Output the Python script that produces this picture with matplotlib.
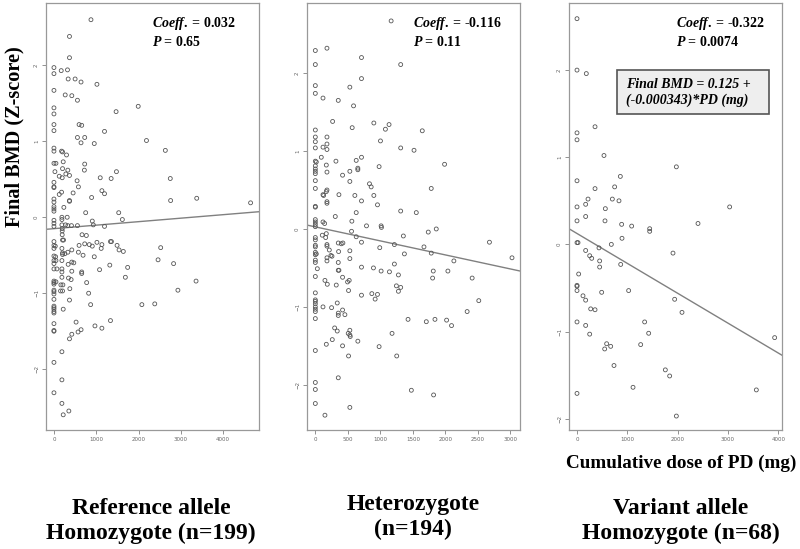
import numpy as np
import matplotlib
matplotlib.use("Agg")
import matplotlib.pyplot as plt
from matplotlib.patches import Rectangle

plt.rcParams['mathtext.fontset'] = 'custom'
plt.rcParams['mathtext.rm'] = 'Liberation Serif:bold'
plt.rcParams['mathtext.it'] = 'Liberation Serif:bold:italic'

# Reference allele homozygote (n=199): cumulative PD dose (mg) vs final BMD Z-score
ref_x = [875, 367, 367, 0, 0, 172, 320, 336, 500, 640, 1016, 0, 266, 422, 555, 1992, 0, 0, 1469, 0,
         594, 656, 0, 1195, 555, 727, 2187, 640, 953, 0, 0, 180, 203, 297, 2633, 0, 47, 219, 727, 203,
         328, 23, 719, 1477, 125, 195, 367, 281, 1094, 1352, 2750, 547, 0, 0, 0, 578, 180, 1133, 1195, 125,
         0, 0, 453, 367, 367, 890, 234, 0, 0, 2758, 3375, 4648,
         0, 750, 1531, 313, 188, 188, 0, 0, 1617, 906, 188, 273, 328, 414, 555, 0, 930, 1195, 195, 195,
         195, 664, 766, 0, 227, 203, 0, 31, 0, 594, 727, 836, 906, 1016, 1133, 1117, 1336, 1359, 1492, 1539,
         1640, 2523, 188, 422, 328, 203, 203, 258, 578, 688, 0, 39, 0, 47, 188, 953, 2461, 422, 469, 336,
         0, 1320, 2828, 0, 70, 188, 188, 422, 656, 656, 1078, 1742, 188, 344, 406, 1688, 3359, 0, 0, 47,
         0, 773, 164, 211, 0, 0, 0, 156, 203, 375, 820, 2930, 0, 367, 0, 0, 0, 0, 0, 219,
         867, 2078, 2383, 0, 523, 1336, 0, 0, 570, 641, 969, 1133, 422, 367, 188, 0, 188, 0, 188, 352, 219]
ref_y = [2.60, 2.38, 2.10, 1.97, 1.89, 1.93, 1.94, 1.82, 1.82, 1.78, 1.75, 1.67, 1.61, 1.60, 1.54, 1.46, 1.44, 1.36, 1.39, 1.22,
         1.22, 1.21, 1.14, 1.13, 1.05, 1.05, 1.01, 0.98, 0.97, 0.91, 0.87, 0.87, 0.86, 0.82, 0.88, 0.71, 0.71, 0.73, 0.70, 0.64,
         0.62, 0.60, 0.62, 0.60, 0.54, 0.52, 0.55, 0.57, 0.52, 0.51, 0.51, 0.48, 0.46, 0.40, 0.39, 0.40, 0.33, 0.35, 0.31, 0.30,
         0.24, 0.20, 0.32, 0.22, 0.21, 0.26, 0.13, 0.14, 0.11, 0.22, 0.25, 0.19,
         0.08, 0.06, 0.06, 0.0, 0.0, -0.03, -0.04, -0.08, -0.03, -0.05, -0.10, -0.10, -0.11, -0.11, -0.11, -0.12, -0.10, -0.12, -0.15, -0.18,
         -0.23, -0.23, -0.24, -0.32, -0.30, -0.30, -0.37, -0.38, -0.41, -0.37, -0.35, -0.36, -0.38, -0.33, -0.36, -0.41, -0.32, -0.32, -0.37, -0.43,
         -0.45, -0.40, -0.41, -0.43, -0.46, -0.47, -0.49, -0.48, -0.46, -0.50, -0.51, -0.52, -0.57, -0.57, -0.57, -0.52, -0.56, -0.59, -0.60, -0.62,
         -0.61, -0.63, -0.61, -0.68, -0.68, -0.68, -0.72, -0.71, -0.72, -0.74, -0.69, -0.66, -0.79, -0.80, -0.82, -0.79, -0.84, -0.84, -0.86, -0.85,
         -0.88, -0.86, -0.89, -0.89, -0.96, -0.98, -1.01, -0.97, -0.97, -0.94, -1.00, -0.96, -1.08, -1.09, -1.17, -1.19, -1.21, -1.24, -1.26, -1.21,
         -1.15, -1.15, -1.14, -1.40, -1.38, -1.36, -1.49, -1.50, -1.51, -1.48, -1.43, -1.46, -1.54, -1.60, -1.77, -1.91, -2.14, -2.31, -2.45, -2.55, -2.60]

# Heterozygote (n=194)
het_x = [1166, 0, 179, 0, 710, 1313, 710, 0, 0, 531, 118, 353, 588, 266, 0, 567, 900, 1134, 1078, 1645,
         0, 0, 0, 179, 179, 179, 118, 1002, 1313, 1518, 92, 0, 15, 169, 317, 629, 710, 1988, 0, 0,
         0, 0, 179, 531, 654, 654, 981, 419, 0, 531, 833, 859, 0, 1783, 179, 169, 118, 128, 363, 608,
         900, 710, 956, 179, 179, 0, 0,
         1313, 1553, 629, 307, 0, 0, 0, 0, 118, 143, 562, 787, 1012, 1017, 1860,
         0, 0, 107, 169, 159, 557, 629, 710, 179, 179, 353, 399, 424, 1354, 1737, 2678, 991, 1216, 1671, 0,
         0, 215, 240, 256, 358, 531, 1370, 1783, 0, 0, 15, 179, 179, 0, 0, 353, 531, 2131, 3025, 31,
         353, 363, 710, 894, 1012, 1140, 1216, 1278, 1814, 2039, 0, 419, 148, 184, 322, 496, 521, 1804, 2412, 1247,
         1313, 1278, 511, 0, 710, 869, 956, 920, 0, 0, 0, 0, 0, 0, 337, 2514, 118, 250, 419, 455,
         353, 353, 2335, 0, 1426, 1707, 1840, 2019, 2095, 297, 337, 531, 531, 506, 537, 1180, 261, 654, 169, 419,
         981, 0, 511, 1252, 353, 0, 0, 1477, 1819, 0, 531, 148]
het_y = [2.67, 2.29, 2.32, 2.11, 2.20, 2.11, 1.93, 1.84, 1.74, 1.82, 1.68, 1.65, 1.58, 1.38, 1.27, 1.30, 1.36, 1.34, 1.28, 1.26,
         1.18, 1.12, 1.04, 1.18, 1.09, 1.02, 1.05, 1.13, 1.04, 1.01, 0.92, 0.87, 0.86, 0.82, 0.87, 0.88, 0.92, 0.83, 0.81, 0.77,
         0.74, 0.71, 0.73, 0.74, 0.78, 0.76, 0.80, 0.69, 0.62, 0.61, 0.58, 0.54, 0.52, 0.52, 0.50, 0.48, 0.44, 0.43, 0.44, 0.43,
         0.43, 0.36, 0.31, 0.35, 0.33, 0.29, 0.28,
         0.23, 0.21, 0.21, 0.16, 0.12, 0.09, 0.06, 0.03, 0.09, 0.07, 0.10, 0.04, 0.04, 0.02, 0.0,
         -0.11, -0.14, -0.08, -0.06, -0.11, -0.03, -0.10, -0.17, -0.20, -0.22, -0.18, -0.19, -0.18, -0.09, -0.04, -0.17, -0.24, -0.20, -0.23, -0.21,
         -0.23, -0.27, -0.34, -0.35, -0.29, -0.28, -0.32, -0.31, -0.30, -0.33, -0.32, -0.37, -0.41, -0.40, -0.43, -0.43, -0.38, -0.41, -0.37, -0.51,
         -0.53, -0.53, -0.49, -0.50, -0.54, -0.55, -0.45, -0.59, -0.54, -0.54, -0.61, -0.62, -0.66, -0.71, -0.72, -0.68, -0.66, -0.63, -0.63, -0.73,
         -0.75, -0.80, -0.79, -0.82, -0.85, -0.83, -0.84, -0.90, -0.91, -0.93, -0.96, -1.00, -1.03, -1.06, -0.95, -0.92, -1.00, -1.01, -1.04, -1.10,
         -1.08, -1.11, -1.06, -1.15, -1.16, -1.19, -1.16, -1.17, -1.24, -1.27, -1.31, -1.30, -1.36, -1.34, -1.38, -1.34, -1.42, -1.44, -1.48, -1.50,
         -1.51, -1.56, -1.63, -1.63, -1.91, -1.97, -2.06, -2.07, -2.13, -2.24, -2.29, -2.39]

# Variant allele homozygote (n=68)
var_x = [0, 0, 185, 358, 0, 0, 536, 1974, 0, 861, 748, 358, 219, 172, 702, 834, 0, 563, 3033, 0,
         172, 556, 887, 1086, 2404, 1444, 1444, 894, 0, 20, 682, 437, 172, 252, 292, 450, 450, 868, 1907, 33,
         0, 0, 0, 490, 1026, 119, 172, 1940, 272, 358, 2086, 0, 172, 1344, 252, 1424, 3927, 589, 669, 550,
         1265, 735, 1755, 1841, 1113, 3563, 0, 1974]
var_y = [2.59, 2.0, 1.96, 1.35, 1.28, 1.20, 1.02, 0.89, 0.73, 0.78, 0.66, 0.64, 0.52, 0.46, 0.52, 0.50, 0.43, 0.41, 0.43, 0.27,
         0.32, 0.27, 0.23, 0.21, 0.24, 0.18, 0.15, 0.07, 0.02, 0.02, 0.0, -0.04, -0.07, -0.13, -0.16, -0.19, -0.26, -0.23, -0.10, -0.34,
         -0.47, -0.48, -0.53, -0.55, -0.53, -0.59, -0.64, -0.63, -0.74, -0.75, -0.78, -0.89, -0.93, -0.89, -1.03, -1.02, -1.07, -1.14, -1.17, -1.20,
         -1.15, -1.39, -1.44, -1.51, -1.64, -1.67, -1.71, -1.97]

# fitted lines (intercept, slope) and stats as printed
intercepts = [-0.15, 0.027, 0.125]
slopes = [0.000046, -0.00018, -0.000343]
coeffs = ['0.032', '-0.116', '-0.322']
pvals = ['0.65', '0.11', '0.0074']
group_labels = ['Reference allele\nHomozygote (n=199)', 'Heterozygote\n(n=194)', 'Variant allele\nHomozygote (n=68)']
xticks_list = [[0, 1000, 2000, 3000, 4000], [0, 500, 1000, 1500, 2000, 2500, 3000], [0, 1000, 2000, 3000, 4000]]
yticks = [-2, -1, 0, 1, 2]

xs = [ref_x, het_x, var_x]
ys = [ref_y, het_y, var_y]
xlims = [(-188, 4847), (-128, 3148), (-159, 4073)]
ylims = [(-2.80, 2.82), (-2.58, 2.90), (-2.13, 2.77)]

W, H = 800, 549
fig = plt.figure(figsize=(8, 5.49), dpi=100)
lefts = [46, 307, 569]
serif = 'Liberation Serif'

for i in range(3):
    ax = fig.add_axes([lefts[i] / W, (H - 430) / H, 213 / W, 427 / H])
    ax.scatter(xs[i], ys[i], s=8, facecolors='none', edgecolors='#555555', linewidths=0.6, zorder=3)
    ax.set_xlim(*xlims[i])
    ax.set_ylim(*ylims[i])
    xx = np.array(xlims[i])
    ax.plot(xx, intercepts[i] + slopes[i] * xx, color='#808080', lw=1.0, zorder=2)
    ax.set_xticks(xticks_list[i])
    ax.set_yticks(yticks)
    ax.tick_params(axis='both', labelsize=4, colors='#666666', length=3, width=0.5, pad=2)
    for lab in ax.get_yticklabels():
        lab.set_rotation(90)
        lab.set_va('center')
    for sp in ax.spines.values():
        sp.set_color('#999999')
        sp.set_linewidth(0.9)
    ax.text(0.50, 0.953, r'$\mathit{Coeff.}$' + '\u2009= ' + coeffs[i], transform=ax.transAxes,
            family=serif, weight='bold', fontsize=10, va='center', ha='left')
    ax.text(0.50, 0.909, r'$\mathit{P}$ = ' + pvals[i], transform=ax.transAxes,
            family=serif, weight='bold', fontsize=10, va='center', ha='left')
    if i == 2:
        ax.add_patch(Rectangle((0.225, 0.740), 0.714, 0.103, transform=ax.transAxes,
                               facecolor='#eeeeee', edgecolor='#555555', lw=1.2, zorder=4))
        ax.text(0.268, 0.808, 'Final BMD = 0.125 +', transform=ax.transAxes, family=serif,
                weight='bold', style='italic', fontsize=10, va='center', ha='left', zorder=5)
        ax.text(0.268, 0.773, '(-0.000343)*PD (mg)', transform=ax.transAxes, family=serif,
                weight='bold', style='italic', fontsize=10, va='center', ha='left', zorder=5)

fig.text(14 / W, 1 - 137 / H, 'Final BMD (Z-score)', rotation=90, family=serif, weight='bold',
         fontsize=14.6, ha='center', va='center')
fig.text(681 / W, 1 - 463 / H, 'Cumulative dose of PD (mg)', family=serif, weight='bold',
         fontsize=13.8, ha='center', va='center')
centers = [151, 413, 681]
label_y = [521, 517, 521]
for i in range(3):
    fig.text(centers[i] / W, 1 - label_y[i] / H, group_labels[i], family=serif, weight='bold',
             fontsize=17, ha='center', va='center', linespacing=1.2)

fig.savefig('out.png', dpi=100)
